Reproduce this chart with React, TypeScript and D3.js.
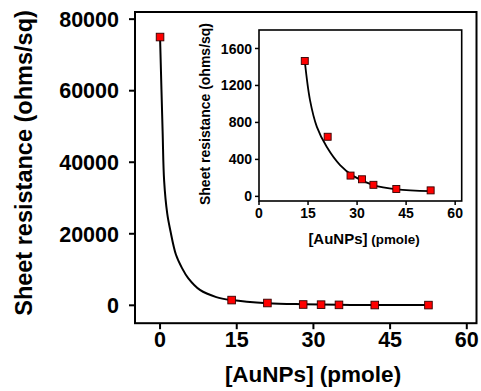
import React from "react";
import * as d3 from "d3";

// measured points
const conc = [0, 14, 21, 28, 31.5, 35, 42, 52.5];
const resistance = [75000, 1465, 645, 225, 185, 125, 80, 65];

// inset uses the points from 14 pmole on
const insetConc = [14, 21, 28, 31.5, 35, 42, 52.5];
const insetResistance = [1465, 645, 225, 185, 125, 80, 65];

// fitted decay curves
const mainFitX = [0, 0.5, 0.8, 1.4, 2, 3.1, 4.3, 5.5, 7.8, 11, 14, 21, 28, 35, 42, 52.5];
const mainFitY = [75000, 48700, 34800, 25700, 21000, 14200, 10400, 7600, 4300, 2300, 1470, 600, 300, 150, 80, 60];
const insetFitX = [14, 15.6, 17.7, 20.7, 24.8, 28.9, 35, 42.1, 52.5];
const insetFitY = [1465, 1041, 752, 536, 338, 219, 122, 76, 57];

const mainXTicks = [0, 15, 30, 45, 60];
const mainYTicks = [0, 20000, 40000, 60000, 80000];
const insetXTicks = [0, 15, 30, 45, 60];
const insetYTicks = [0, 400, 800, 1200, 1600];

const FONT = "'Liberation Sans', Arial, sans-serif";

export default function App() {
  // main plot
  const x = d3.scaleLinear().domain([-4.9, 61.9]).range([135, 476.5]);
  const y = d3.scaleLinear().domain([-5000, 82000]).range([323.2, 12]);
  // inset
  const xi = d3.scaleLinear().domain([0, 62]).range([259, 461.7]);
  const yi = d3.scaleLinear().domain([-50, 1800]).range([201, 30]);

  const mainLine = d3
    .line<number>()
    .x((d, i) => x(mainFitX[i]))
    .y((d) => y(d))
    .curve(d3.curveCatmullRom.alpha(0.5));
  const insetLine = d3
    .line<number>()
    .x((d, i) => xi(insetFitX[i]))
    .y((d) => yi(d))
    .curve(d3.curveCatmullRom.alpha(0.5));

  const [mx0, mx1] = x.range();
  const [my0, my1] = y.range();
  const [ix0, ix1] = xi.range();
  const [iy0, iy1] = yi.range();

  return (
    <svg
      width={481}
      height={391}
      style={{ position: "absolute", left: 0, top: 0, background: "#fff" }}
      fontFamily={FONT}
      fontWeight="bold"
    >
      {/* main frame */}
      <rect x={mx0} y={my1} width={mx1 - mx0} height={my0 - my1} fill="none" stroke="#000" strokeWidth={2} />
      {mainYTicks.map((t) => (
        <g key={"my" + t}>
          <line x1={mx0 - 6} x2={mx0} y1={y(t)} y2={y(t)} stroke="#000" strokeWidth={2} />
          <text x={119} y={y(t)} dy="0.36em" textAnchor="end" fontSize={21.5}>
            {t}
          </text>
        </g>
      ))}
      {mainXTicks.map((t) => (
        <g key={"mx" + t}>
          <line x1={x(t)} x2={x(t)} y1={my0} y2={my0 + 6} stroke="#000" strokeWidth={2} />
          <text x={x(t)} y={347} textAnchor="middle" fontSize={21.5}>
            {t}
          </text>
        </g>
      ))}
      <text transform="translate(32,163) rotate(-90)" textAnchor="middle" fontSize={23.5}>
        Sheet resistance (ohms/sq)
      </text>
      <text x={313} y={382} textAnchor="middle" fontSize={22.5}>
        [AuNPs] (pmole)
      </text>

      <path d={mainLine(mainFitY) || ""} fill="none" stroke="#000" strokeWidth={2} />
      {conc.map((c, i) => (
        <rect
          key={"mp" + i}
          x={x(c) - 3.8}
          y={y(resistance[i]) - 3.8}
          width={7.6}
          height={7.6}
          fill="#f00"
          stroke="#300"
          strokeWidth={0.9}
        />
      ))}

      {/* inset */}
      <rect x={ix0} y={iy1} width={ix1 - ix0} height={iy0 - iy1} fill="none" stroke="#000" strokeWidth={1.6} />
      {insetYTicks.map((t) => (
        <g key={"iy" + t}>
          <line x1={ix0 - 4} x2={ix0} y1={yi(t)} y2={yi(t)} stroke="#000" strokeWidth={1.5} />
          <text x={252} y={yi(t)} dy="0.36em" textAnchor="end" fontSize={14}>
            {t}
          </text>
        </g>
      ))}
      {insetXTicks.map((t) => (
        <g key={"ix" + t}>
          <line x1={xi(t)} x2={xi(t)} y1={iy0} y2={iy0 + 4} stroke="#000" strokeWidth={1.5} />
          <text x={xi(t)} y={218} textAnchor="middle" fontSize={14}>
            {t}
          </text>
        </g>
      ))}
      <text transform="translate(210,114) rotate(-90)" textAnchor="middle" fontSize={14}>
        Sheet resistance (ohms/sq)
      </text>
      <text x={364} y={244} textAnchor="middle">
        <tspan fontSize={15}>[AuNPs]</tspan>
        <tspan fontSize={13.4}> (pmole)</tspan>
      </text>

      <path d={insetLine(insetFitY) || ""} fill="none" stroke="#000" strokeWidth={1.8} />
      {insetConc.map((c, i) => (
        <rect
          key={"ip" + i}
          x={xi(c) - 3.5}
          y={yi(insetResistance[i]) - 3.5}
          width={7}
          height={7}
          fill="#f00"
          stroke="#300"
          strokeWidth={0.9}
        />
      ))}
    </svg>
  );
}
